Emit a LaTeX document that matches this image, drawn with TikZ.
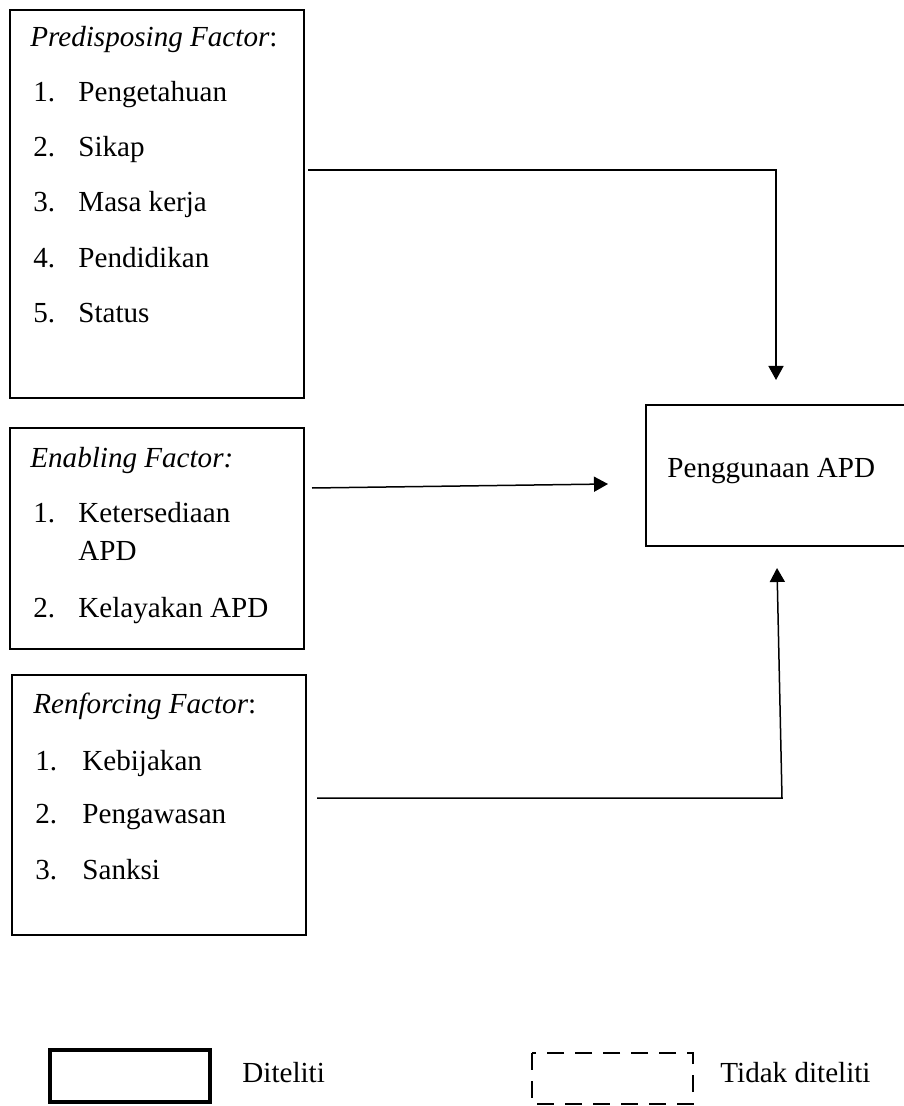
\documentclass[tikz,border=0pt]{standalone}
\usepackage{fontspec}
\setmainfont{Liberation Serif}
\usetikzlibrary{arrows.meta}
\begin{document}
\begin{tikzpicture}[x=0.5pt,y=-0.5pt,
  txt/.style={anchor=base west,inner sep=0pt,font=\fontsize{14.55}{17}\selectfont},
  framebox/.style={draw,line width=0.75pt},
  conn/.style={line width=0.75pt},
  arr/.style={conn,-{Triangle[length=7pt,width=7.5pt]}},
  legsolid/.style={draw,line width=1.6pt},
  legdash/.style={draw,line width=1pt,dash pattern=on 8.5pt off 5.5pt}]
\useasboundingbox (0,0) rectangle (903,1106);
% boxes
\draw[framebox] (10,10) rectangle (304,398);
\draw[framebox] (10,428) rectangle (304,649);
\draw[framebox] (12,675) rectangle (306,935);
\draw[framebox] (646,405) rectangle (912,546);
% box 1 text
\node[txt] (p0) at (30,47) {\textit{Predisposing Factor}:};
\node[txt] (p1n) at (33,102) {1.}; \node[txt] (p1) at (78,102) {Pengetahuan};
\node[txt] (p2n) at (33,157) {2.}; \node[txt] (p2) at (78,157) {Sikap};
\node[txt] (p3n) at (33,212) {3.}; \node[txt] (p3) at (78,212) {Masa kerja};
\node[txt] (p4n) at (33,268) {4.}; \node[txt] (p4) at (78,268) {Pendidikan};
\node[txt] (p5n) at (33,323) {5.}; \node[txt] (p5) at (78,323) {Status};
% box 2 text
\node[txt] (e0) at (30,467) {\textit{Enabling Factor:}};
\node[txt] (e1n) at (33,522) {1.}; \node[txt] (e1) at (78,522) {Ketersediaan};
\node[txt] (e1b) at (78,560) {APD};
\node[txt] (e2n) at (33,617) {2.}; \node[txt] (e2) at (78,617) {Kelayakan APD};
% box 3 text
\node[txt] (r0) at (33,713) {\textit{Renforcing Factor}:};
\node[txt] (r1n) at (35,770) {1.}; \node[txt] (r1) at (82,770) {Kebijakan};
\node[txt] (r2n) at (35,823) {2.}; \node[txt] (r2) at (82,823) {Pengawasan};
\node[txt] (r3n) at (35,879) {3.}; \node[txt] (r3) at (82,879) {Sanksi};
% outcome
\node[txt] (apd) at (667,477) {Penggunaan APD};
% connectors
\coordinate (c1s) at (308,170);
\coordinate (c1k) at (776,170);
\coordinate (c1e) at (776,380);
\coordinate (c2s) at (312,488);
\coordinate (c2e) at (608,484);
\coordinate (c3s) at (317,798);
\coordinate (c3k) at (782,798);
\coordinate (c3e) at (777,568);
\draw[arr] (c1s) -- (c1k) -- (c1e);
\draw[arr] (c2s) -- (c2e);
\draw[arr] (c3s) -- (c3k) -- (c3e);
% legend
\draw[legsolid] (50,1050) rectangle (210,1102);
\node[txt] (l1) at (242,1082) {Diteliti};
\draw[legdash] (532,1053) rectangle (693,1104);
\node[txt] (l2) at (720,1082) {Tidak diteliti};
\end{tikzpicture}
\end{document}
